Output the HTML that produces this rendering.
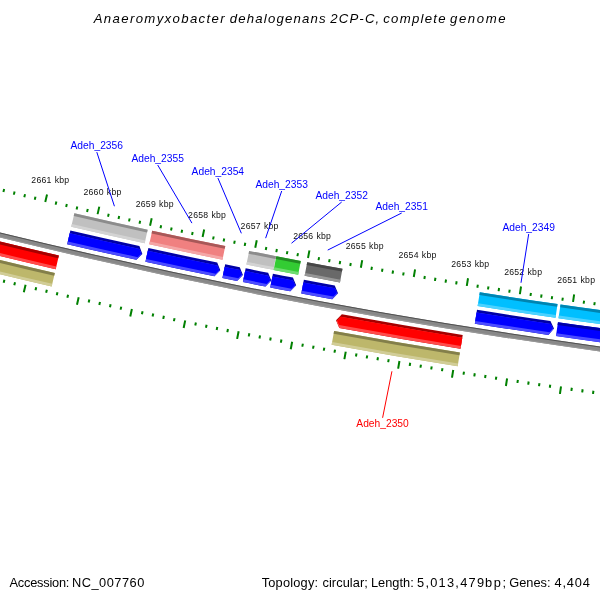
<!DOCTYPE html>
<html><head><meta charset="utf-8"><style>
html,body{margin:0;padding:0;background:#fff;width:600px;height:600px;overflow:hidden}
svg{display:block;will-change:transform}
text{font-family:"Liberation Sans",sans-serif}
</style></head><body>
<svg width="600" height="600" viewBox="0 0 600 600">
<rect width="600" height="600" fill="#fff"/>
<path d="M-69.09,215.18A5927.11,5927.11 0 0 0 674.62,356.11L674.00,361.07A5932.11,5932.11 0 0 1 -70.33,220.02Z" fill="#888888"/>
<path d="M-69.09,215.18A5927.11,5927.11 0 0 0 674.62,356.11L674.50,357.10A5928.11,5928.11 0 0 1 -69.34,216.15Z" fill="#505050"/>
<path d="M-70.08,219.05A5931.11,5931.11 0 0 0 674.13,360.08L674.00,361.07A5932.11,5932.11 0 0 1 -70.33,220.02Z" fill="#989898"/>
<path d="M74.37,213.19A5891.16,5891.16 0 0 0 147.66,229.68L144.70,243.26A5905.06,5905.06 0 0 1 71.23,226.73Z" fill="#c0c0c0"/>
<path d="M74.37,213.19A5891.16,5891.16 0 0 0 147.66,229.68L147.06,232.42A5893.96,5893.96 0 0 1 73.74,215.92Z" fill="#8c8c8c"/>
<path d="M71.86,224.01A5902.26,5902.26 0 0 0 145.29,240.53L144.70,243.26A5905.06,5905.06 0 0 1 71.23,226.73Z" fill="#d3d3d3"/>
<path d="M70.35,230.53A5908.96,5908.96 0 0 0 139.39,246.09L142.37,253.91L136.39,259.77A5922.96,5922.96 0 0 1 67.19,244.17Z" fill="#0000a6"/>
<path d="M69.72,233.26A5911.76,5911.76 0 0 0 139.53,248.99L141.67,254.60L136.39,259.77A5922.96,5922.96 0 0 1 67.19,244.17Z" fill="#4c4cff"/>
<path d="M69.72,233.26A5911.76,5911.76 0 0 0 139.53,248.99L141.32,253.68L137.73,257.20A5920.16,5920.16 0 0 1 67.82,241.44Z" fill="#0000ff"/>
<path d="M152.18,230.67A5891.16,5891.16 0 0 0 225.27,246.08L222.49,259.69A5905.06,5905.06 0 0 1 149.23,244.25Z" fill="#f08080"/>
<path d="M152.18,230.67A5891.16,5891.16 0 0 0 225.27,246.08L224.71,248.82A5893.96,5893.96 0 0 1 151.58,233.40Z" fill="#a85858"/>
<path d="M149.82,241.51A5902.26,5902.26 0 0 0 223.05,256.95L222.49,259.69A5905.06,5905.06 0 0 1 149.23,244.25Z" fill="#f4a6a6"/>
<path d="M148.40,248.06A5908.96,5908.96 0 0 0 217.21,262.60L220.30,270.37L214.40,276.31A5922.96,5922.96 0 0 1 145.42,261.74Z" fill="#0000a6"/>
<path d="M147.80,250.80A5911.76,5911.76 0 0 0 217.40,265.49L219.61,271.07L214.40,276.31A5922.96,5922.96 0 0 1 145.42,261.74Z" fill="#4c4cff"/>
<path d="M147.80,250.80A5911.76,5911.76 0 0 0 217.40,265.49L219.25,270.16L215.71,273.72A5920.16,5920.16 0 0 1 146.02,259.00Z" fill="#0000ff"/>
<path d="M225.19,264.23A5908.96,5908.96 0 0 0 239.79,267.18L242.91,274.94L237.03,280.90A5922.96,5922.96 0 0 1 222.40,277.95Z" fill="#0000a6"/>
<path d="M224.63,266.97A5911.76,5911.76 0 0 0 239.98,270.07L242.22,275.64L237.03,280.90A5922.96,5922.96 0 0 1 222.40,277.95Z" fill="#4c4cff"/>
<path d="M224.63,266.97A5911.76,5911.76 0 0 0 239.98,270.07L241.85,274.73L238.33,278.31A5920.16,5920.16 0 0 1 222.96,275.20Z" fill="#0000ff"/>
<path d="M249.14,250.90A5891.16,5891.16 0 0 0 276.05,256.21L273.39,269.86A5905.06,5905.06 0 0 1 246.42,264.53Z" fill="#c0c0c0"/>
<path d="M249.14,250.90A5891.16,5891.16 0 0 0 276.05,256.21L275.51,258.96A5893.96,5893.96 0 0 1 248.60,253.65Z" fill="#8c8c8c"/>
<path d="M246.97,261.79A5902.26,5902.26 0 0 0 273.93,267.11L273.39,269.86A5905.06,5905.06 0 0 1 246.42,264.53Z" fill="#d3d3d3"/>
<path d="M245.65,268.36A5908.96,5908.96 0 0 0 268.14,272.81L271.30,280.56L265.45,286.54A5922.96,5922.96 0 0 1 242.91,282.08Z" fill="#0000a6"/>
<path d="M245.11,271.10A5911.76,5911.76 0 0 0 268.35,275.70L270.62,281.26L265.45,286.54A5922.96,5922.96 0 0 1 242.91,282.08Z" fill="#4c4cff"/>
<path d="M245.11,271.10A5911.76,5911.76 0 0 0 268.35,275.70L270.25,280.35L266.74,283.94A5920.16,5920.16 0 0 1 243.46,279.34Z" fill="#0000ff"/>
<path d="M276.31,256.27A5891.16,5891.16 0 0 0 300.76,260.98L298.16,274.63A5905.06,5905.06 0 0 1 273.65,269.91Z" fill="#33cc33"/>
<path d="M276.31,256.27A5891.16,5891.16 0 0 0 300.76,260.98L300.24,263.73A5893.96,5893.96 0 0 1 275.78,259.01Z" fill="#228a22"/>
<path d="M274.19,267.16A5902.26,5902.26 0 0 0 298.68,271.88L298.16,274.63A5905.06,5905.06 0 0 1 273.65,269.91Z" fill="#70dc70"/>
<path d="M272.91,273.74A5908.96,5908.96 0 0 0 292.93,277.61L296.12,285.34L290.29,291.36A5922.96,5922.96 0 0 1 270.23,287.48Z" fill="#0000a6"/>
<path d="M272.37,276.49A5911.76,5911.76 0 0 0 293.15,280.50L295.44,286.05L290.29,291.36A5922.96,5922.96 0 0 1 270.23,287.48Z" fill="#4c4cff"/>
<path d="M272.37,276.49A5911.76,5911.76 0 0 0 293.15,280.50L295.06,285.14L291.57,288.75A5920.16,5920.16 0 0 1 270.76,284.73Z" fill="#0000ff"/>
<path d="M307.21,262.21A5891.16,5891.16 0 0 0 342.47,268.78L339.96,282.45A5905.06,5905.06 0 0 1 304.62,275.86Z" fill="#696969"/>
<path d="M307.21,262.21A5891.16,5891.16 0 0 0 342.47,268.78L341.96,271.53A5893.96,5893.96 0 0 1 306.69,264.96Z" fill="#474747"/>
<path d="M305.14,273.11A5902.26,5902.26 0 0 0 340.47,279.69L339.96,282.45A5905.06,5905.06 0 0 1 304.62,275.86Z" fill="#969696"/>
<path d="M303.89,279.69A5908.96,5908.96 0 0 0 334.75,285.46L338.00,293.17L332.22,299.23A5922.96,5922.96 0 0 1 301.29,293.45Z" fill="#0000a6"/>
<path d="M303.37,282.45A5911.76,5911.76 0 0 0 334.99,288.35L337.32,293.88L332.22,299.23A5922.96,5922.96 0 0 1 301.29,293.45Z" fill="#4c4cff"/>
<path d="M303.37,282.45A5911.76,5911.76 0 0 0 334.99,288.35L336.94,292.98L333.48,296.61A5920.16,5920.16 0 0 1 301.81,290.70Z" fill="#0000ff"/>
<path d="M479.81,292.26A5891.16,5891.16 0 0 0 557.53,304.08L555.54,317.83A5905.06,5905.06 0 0 1 477.63,305.99Z" fill="#00bfff"/>
<path d="M479.81,292.26A5891.16,5891.16 0 0 0 557.53,304.08L557.13,306.85A5893.96,5893.96 0 0 1 479.37,295.03Z" fill="#0084b0"/>
<path d="M478.06,303.22A5902.26,5902.26 0 0 0 555.94,315.06L555.54,317.83A5905.06,5905.06 0 0 1 477.63,305.99Z" fill="#4cd2ff"/>
<path d="M477.01,309.84A5908.96,5908.96 0 0 0 550.44,321.03L553.97,328.62L548.42,334.88A5922.96,5922.96 0 0 1 474.82,323.67Z" fill="#0000a6"/>
<path d="M476.57,312.61A5911.76,5911.76 0 0 0 550.79,323.91L553.32,329.35L548.42,334.88A5922.96,5922.96 0 0 1 474.82,323.67Z" fill="#4c4cff"/>
<path d="M476.57,312.61A5911.76,5911.76 0 0 0 550.79,323.91L552.91,328.46L549.57,332.22A5920.16,5920.16 0 0 1 475.26,320.90Z" fill="#0000ff"/>
<path d="M560.51,304.51A5891.16,5891.16 0 0 0 652.37,317.06L650.59,330.85A5905.06,5905.06 0 0 1 558.52,318.27Z" fill="#00bfff"/>
<path d="M560.51,304.51A5891.16,5891.16 0 0 0 652.37,317.06L652.01,319.84A5893.96,5893.96 0 0 1 560.11,307.28Z" fill="#0084b0"/>
<path d="M558.92,315.49A5902.26,5902.26 0 0 0 650.95,328.07L650.59,330.85A5905.06,5905.06 0 0 1 558.52,318.27Z" fill="#4cd2ff"/>
<path d="M557.96,322.13A5908.96,5908.96 0 0 0 650.10,334.71L648.31,348.60A5922.96,5922.96 0 0 1 555.96,335.98Z" fill="#0000ff"/>
<path d="M557.96,322.13A5908.96,5908.96 0 0 0 650.10,334.71L649.74,337.49A5911.76,5911.76 0 0 1 557.56,324.90Z" fill="#0000a6"/>
<path d="M556.36,333.21A5920.16,5920.16 0 0 0 648.67,345.82L648.31,348.60A5922.96,5922.96 0 0 1 555.96,335.98Z" fill="#4c4cff"/>
<path d="M-71.29,223.75A5935.96,5935.96 0 0 0 58.87,255.59L55.70,269.22A5949.96,5949.96 0 0 1 -74.77,237.31Z" fill="#ff0000"/>
<path d="M-71.29,223.75A5935.96,5935.96 0 0 0 58.87,255.59L58.24,258.31A5938.76,5938.76 0 0 1 -71.98,226.46Z" fill="#a60000"/>
<path d="M-74.07,234.60A5947.16,5947.16 0 0 0 56.33,266.50L55.70,269.22A5949.96,5949.96 0 0 1 -74.77,237.31Z" fill="#ff4c4c"/>
<path d="M-75.74,241.09A5953.86,5953.86 0 0 0 54.82,273.02L51.67,286.56A5967.76,5967.76 0 0 1 -79.19,254.55Z" fill="#bdb76b"/>
<path d="M-75.74,241.09A5953.86,5953.86 0 0 0 54.82,273.02L54.18,275.75A5956.66,5956.66 0 0 1 -76.43,243.80Z" fill="#837f4a"/>
<path d="M-78.49,251.84A5964.96,5964.96 0 0 0 52.30,283.83L51.67,286.56A5967.76,5967.76 0 0 1 -79.19,254.55Z" fill="#d1cd97"/>
<path d="M462.72,334.90A5935.96,5935.96 0 0 1 341.86,314.21L336.07,320.27L339.35,327.98A5949.96,5949.96 0 0 0 460.50,348.72Z" fill="#a60000"/>
<path d="M462.27,337.66A5938.76,5938.76 0 0 1 340.61,316.82L336.45,321.17L339.35,327.98A5949.96,5949.96 0 0 0 460.50,348.72Z" fill="#ff4c4c"/>
<path d="M462.27,337.66A5938.76,5938.76 0 0 1 340.61,316.82L337.13,320.46L339.10,325.09A5947.16,5947.16 0 0 0 460.94,345.96Z" fill="#ff0000"/>
<path d="M459.88,352.57A5953.86,5953.86 0 0 1 334.11,330.99L331.61,344.66A5967.76,5967.76 0 0 0 457.68,366.30Z" fill="#bdb76b"/>
<path d="M459.88,352.57A5953.86,5953.86 0 0 1 334.11,330.99L333.61,333.74A5956.66,5956.66 0 0 0 459.44,355.34Z" fill="#837f4a"/>
<path d="M458.12,363.53A5964.96,5964.96 0 0 1 332.12,341.91L331.61,344.66A5967.76,5967.76 0 0 0 457.68,366.30Z" fill="#d1cd97"/>
<path d="M679.54,308.40A5879.16,5879.16 0 0 0 681.50,308.64L680.56,316.29A5886.86,5886.86 0 0 1 678.59,316.04Z" fill="#008000"/>
<path d="M668.09,400.59A5972.06,5972.06 0 0 0 670.09,400.84L669.14,408.48A5979.76,5979.76 0 0 1 667.14,408.23Z" fill="#008000"/>
<path d="M668.29,311.83A5883.96,5883.96 0 0 0 670.26,312.08L669.87,315.15A5887.06,5887.06 0 0 1 667.90,314.90Z" fill="#008000"/>
<path d="M657.28,399.14A5971.96,5971.96 0 0 0 659.28,399.39L658.89,402.47A5975.06,5975.06 0 0 1 656.90,402.21Z" fill="#008000"/>
<path d="M657.63,310.48A5883.96,5883.96 0 0 0 659.60,310.73L659.21,313.80A5887.06,5887.06 0 0 1 657.24,313.55Z" fill="#008000"/>
<path d="M646.47,397.77A5971.96,5971.96 0 0 0 648.46,398.02L648.07,401.10A5975.06,5975.06 0 0 1 646.07,400.84Z" fill="#008000"/>
<path d="M646.98,309.10A5883.96,5883.96 0 0 0 648.94,309.36L648.55,312.43A5887.06,5887.06 0 0 1 646.58,312.18Z" fill="#008000"/>
<path d="M635.65,396.37A5971.96,5971.96 0 0 0 637.65,396.63L637.25,399.71A5975.06,5975.06 0 0 1 635.25,399.45Z" fill="#008000"/>
<path d="M636.32,307.71A5883.96,5883.96 0 0 0 638.29,307.97L637.89,311.04A5887.06,5887.06 0 0 1 635.92,310.79Z" fill="#008000"/>
<path d="M624.84,394.96A5971.96,5971.96 0 0 0 626.84,395.22L626.44,398.30A5975.06,5975.06 0 0 1 624.44,398.03Z" fill="#008000"/>
<path d="M626.31,301.54A5879.16,5879.16 0 0 0 628.28,301.80L627.26,309.44A5886.86,5886.86 0 0 1 625.29,309.18Z" fill="#008000"/>
<path d="M614.02,393.63A5972.06,5972.06 0 0 0 616.02,393.89L615.00,401.53A5979.76,5979.76 0 0 1 613.00,401.26Z" fill="#008000"/>
<path d="M615.03,304.87A5883.96,5883.96 0 0 0 617.00,305.14L616.58,308.21A5887.06,5887.06 0 0 1 614.61,307.94Z" fill="#008000"/>
<path d="M603.23,392.08A5971.96,5971.96 0 0 0 605.23,392.35L604.81,395.42A5975.06,5975.06 0 0 1 602.81,395.15Z" fill="#008000"/>
<path d="M604.39,303.42A5883.96,5883.96 0 0 0 606.35,303.69L605.93,306.76A5887.06,5887.06 0 0 1 603.96,306.49Z" fill="#008000"/>
<path d="M592.43,390.60A5971.96,5971.96 0 0 0 594.42,390.88L594.00,393.95A5975.06,5975.06 0 0 1 592.00,393.67Z" fill="#008000"/>
<path d="M593.74,301.95A5883.96,5883.96 0 0 0 595.71,302.22L595.28,305.29A5887.06,5887.06 0 0 1 593.32,305.02Z" fill="#008000"/>
<path d="M581.63,389.11A5971.96,5971.96 0 0 0 583.62,389.39L583.20,392.46A5975.06,5975.06 0 0 1 581.20,392.18Z" fill="#008000"/>
<path d="M583.11,300.46A5883.96,5883.96 0 0 0 585.07,300.74L584.64,303.81A5887.06,5887.06 0 0 1 582.67,303.53Z" fill="#008000"/>
<path d="M570.83,387.60A5971.96,5971.96 0 0 0 572.82,387.88L572.39,390.95A5975.06,5975.06 0 0 1 570.40,390.67Z" fill="#008000"/>
<path d="M573.15,294.20A5879.16,5879.16 0 0 0 575.11,294.48L574.03,302.10A5886.86,5886.86 0 0 1 572.06,301.82Z" fill="#008000"/>
<path d="M560.02,386.17A5972.06,5972.06 0 0 0 562.01,386.45L560.93,394.08A5979.76,5979.76 0 0 1 558.93,393.79Z" fill="#008000"/>
<path d="M561.84,297.43A5883.96,5883.96 0 0 0 563.80,297.71L563.36,300.78A5887.06,5887.06 0 0 1 561.39,300.49Z" fill="#008000"/>
<path d="M549.24,384.52A5971.96,5971.96 0 0 0 551.24,384.81L550.79,387.88A5975.06,5975.06 0 0 1 548.80,387.59Z" fill="#008000"/>
<path d="M551.21,295.88A5883.96,5883.96 0 0 0 553.17,296.17L552.72,299.23A5887.06,5887.06 0 0 1 550.76,298.95Z" fill="#008000"/>
<path d="M538.45,382.95A5971.96,5971.96 0 0 0 540.45,383.24L540.00,386.31A5975.06,5975.06 0 0 1 538.00,386.02Z" fill="#008000"/>
<path d="M540.58,294.31A5883.96,5883.96 0 0 0 542.54,294.60L542.09,297.67A5887.06,5887.06 0 0 1 540.13,297.38Z" fill="#008000"/>
<path d="M527.67,381.36A5971.96,5971.96 0 0 0 529.66,381.65L529.21,384.72A5975.06,5975.06 0 0 1 527.21,384.42Z" fill="#008000"/>
<path d="M529.96,292.73A5883.96,5883.96 0 0 0 531.92,293.02L531.46,296.09A5887.06,5887.06 0 0 1 529.50,295.79Z" fill="#008000"/>
<path d="M516.88,379.75A5971.96,5971.96 0 0 0 518.88,380.05L518.42,383.11A5975.06,5975.06 0 0 1 516.42,382.81Z" fill="#008000"/>
<path d="M520.06,286.37A5879.16,5879.16 0 0 0 522.02,286.67L520.86,294.28A5886.86,5886.86 0 0 1 518.90,293.99Z" fill="#008000"/>
<path d="M506.09,378.22A5972.06,5972.06 0 0 0 508.08,378.52L506.92,386.13A5979.76,5979.76 0 0 1 504.93,385.83Z" fill="#008000"/>
<path d="M508.72,289.49A5883.96,5883.96 0 0 0 510.68,289.80L510.21,292.86A5887.06,5887.06 0 0 1 508.24,292.56Z" fill="#008000"/>
<path d="M495.33,376.47A5971.96,5971.96 0 0 0 497.32,376.78L496.85,379.84A5975.06,5975.06 0 0 1 494.85,379.53Z" fill="#008000"/>
<path d="M498.10,287.85A5883.96,5883.96 0 0 0 500.06,288.16L499.59,291.22A5887.06,5887.06 0 0 1 497.62,290.91Z" fill="#008000"/>
<path d="M484.55,374.80A5971.96,5971.96 0 0 0 486.54,375.11L486.07,378.17A5975.06,5975.06 0 0 1 484.07,377.86Z" fill="#008000"/>
<path d="M487.49,286.19A5883.96,5883.96 0 0 0 489.45,286.50L488.97,289.56A5887.06,5887.06 0 0 1 487.01,289.25Z" fill="#008000"/>
<path d="M473.78,373.11A5971.96,5971.96 0 0 0 475.77,373.43L475.29,376.49A5975.06,5975.06 0 0 1 473.30,376.17Z" fill="#008000"/>
<path d="M476.88,284.50A5883.96,5883.96 0 0 0 478.84,284.82L478.35,287.88A5887.06,5887.06 0 0 1 476.39,287.57Z" fill="#008000"/>
<path d="M463.01,371.40A5971.96,5971.96 0 0 0 465.00,371.72L464.51,374.78A5975.06,5975.06 0 0 1 462.52,374.47Z" fill="#008000"/>
<path d="M467.04,278.06A5879.16,5879.16 0 0 0 469.00,278.38L467.77,285.98A5886.86,5886.86 0 0 1 465.81,285.66Z" fill="#008000"/>
<path d="M452.23,369.78A5972.06,5972.06 0 0 0 454.22,370.10L453.00,377.70A5979.76,5979.76 0 0 1 451.00,377.38Z" fill="#008000"/>
<path d="M455.67,281.08A5883.96,5883.96 0 0 0 457.63,281.40L457.13,284.46A5887.06,5887.06 0 0 1 455.17,284.14Z" fill="#008000"/>
<path d="M441.49,367.93A5971.96,5971.96 0 0 0 443.47,368.25L442.98,371.31A5975.06,5975.06 0 0 1 440.99,370.99Z" fill="#008000"/>
<path d="M445.07,279.34A5883.96,5883.96 0 0 0 447.03,279.66L446.52,282.72A5887.06,5887.06 0 0 1 444.56,282.40Z" fill="#008000"/>
<path d="M430.73,366.16A5971.96,5971.96 0 0 0 432.71,366.49L432.21,369.55A5975.06,5975.06 0 0 1 430.22,369.22Z" fill="#008000"/>
<path d="M434.47,277.58A5883.96,5883.96 0 0 0 436.43,277.91L435.92,280.96A5887.06,5887.06 0 0 1 433.96,280.64Z" fill="#008000"/>
<path d="M419.97,364.38A5971.96,5971.96 0 0 0 421.96,364.71L421.45,367.77A5975.06,5975.06 0 0 1 419.46,367.43Z" fill="#008000"/>
<path d="M423.88,275.80A5883.96,5883.96 0 0 0 425.84,276.13L425.32,279.19A5887.06,5887.06 0 0 1 423.36,278.86Z" fill="#008000"/>
<path d="M409.22,362.57A5971.96,5971.96 0 0 0 411.21,362.90L410.69,365.96A5975.06,5975.06 0 0 1 408.70,365.63Z" fill="#008000"/>
<path d="M414.10,269.27A5879.16,5879.16 0 0 0 416.05,269.60L414.76,277.19A5886.86,5886.86 0 0 1 412.80,276.86Z" fill="#008000"/>
<path d="M398.45,360.84A5972.06,5972.06 0 0 0 400.44,361.18L399.15,368.77A5979.76,5979.76 0 0 1 397.16,368.43Z" fill="#008000"/>
<path d="M402.70,272.18A5883.96,5883.96 0 0 0 404.66,272.52L404.13,275.57A5887.06,5887.06 0 0 1 402.17,275.24Z" fill="#008000"/>
<path d="M387.73,358.90A5971.96,5971.96 0 0 0 389.71,359.24L389.18,362.30A5975.06,5975.06 0 0 1 387.20,361.95Z" fill="#008000"/>
<path d="M392.12,270.34A5883.96,5883.96 0 0 0 394.07,270.68L393.54,273.74A5887.06,5887.06 0 0 1 391.58,273.40Z" fill="#008000"/>
<path d="M376.98,357.03A5971.96,5971.96 0 0 0 378.97,357.38L378.44,360.43A5975.06,5975.06 0 0 1 376.45,360.09Z" fill="#008000"/>
<path d="M381.54,268.49A5883.96,5883.96 0 0 0 383.49,268.83L382.95,271.88A5887.06,5887.06 0 0 1 381.00,271.54Z" fill="#008000"/>
<path d="M366.25,355.15A5971.96,5971.96 0 0 0 368.23,355.50L367.69,358.55A5975.06,5975.06 0 0 1 365.71,358.20Z" fill="#008000"/>
<path d="M370.96,266.61A5883.96,5883.96 0 0 0 372.91,266.96L372.37,270.01A5887.06,5887.06 0 0 1 370.42,269.66Z" fill="#008000"/>
<path d="M355.51,353.24A5971.96,5971.96 0 0 0 357.49,353.60L356.95,356.65A5975.06,5975.06 0 0 1 354.97,356.30Z" fill="#008000"/>
<path d="M361.24,259.99A5879.16,5879.16 0 0 0 363.19,260.34L361.83,267.92A5886.86,5886.86 0 0 1 359.87,267.57Z" fill="#008000"/>
<path d="M344.76,351.42A5972.06,5972.06 0 0 0 346.74,351.77L345.38,359.35A5979.76,5979.76 0 0 1 343.40,359.00Z" fill="#008000"/>
<path d="M349.82,262.80A5883.96,5883.96 0 0 0 351.77,263.15L351.22,266.20A5887.06,5887.06 0 0 1 349.26,265.85Z" fill="#008000"/>
<path d="M334.05,349.38A5971.96,5971.96 0 0 0 336.03,349.74L335.48,352.79A5975.06,5975.06 0 0 1 333.50,352.43Z" fill="#008000"/>
<path d="M339.25,260.87A5883.96,5883.96 0 0 0 341.20,261.22L340.64,264.27A5887.06,5887.06 0 0 1 338.69,263.91Z" fill="#008000"/>
<path d="M323.33,347.41A5971.96,5971.96 0 0 0 325.31,347.78L324.75,350.83A5975.06,5975.06 0 0 1 322.77,350.46Z" fill="#008000"/>
<path d="M328.69,258.91A5883.96,5883.96 0 0 0 330.64,259.27L330.07,262.32A5887.06,5887.06 0 0 1 328.12,261.96Z" fill="#008000"/>
<path d="M312.61,345.43A5971.96,5971.96 0 0 0 314.59,345.80L314.02,348.85A5975.06,5975.06 0 0 1 312.04,348.48Z" fill="#008000"/>
<path d="M318.13,256.94A5883.96,5883.96 0 0 0 320.08,257.30L319.51,260.35A5887.06,5887.06 0 0 1 317.56,259.99Z" fill="#008000"/>
<path d="M301.89,343.43A5971.96,5971.96 0 0 0 303.87,343.80L303.30,346.85A5975.06,5975.06 0 0 1 301.32,346.47Z" fill="#008000"/>
<path d="M308.47,250.23A5879.16,5879.16 0 0 0 310.42,250.60L308.98,258.17A5886.86,5886.86 0 0 1 307.03,257.80Z" fill="#008000"/>
<path d="M291.16,341.50A5972.06,5972.06 0 0 0 293.13,341.88L291.70,349.44A5979.76,5979.76 0 0 1 289.72,349.07Z" fill="#008000"/>
<path d="M297.02,252.94A5883.96,5883.96 0 0 0 298.97,253.31L298.39,256.35A5887.06,5887.06 0 0 1 296.44,255.98Z" fill="#008000"/>
<path d="M280.46,339.36A5971.96,5971.96 0 0 0 282.44,339.74L281.86,342.79A5975.06,5975.06 0 0 1 279.88,342.41Z" fill="#008000"/>
<path d="M286.47,250.90A5883.96,5883.96 0 0 0 288.42,251.28L287.83,254.33A5887.06,5887.06 0 0 1 285.88,253.95Z" fill="#008000"/>
<path d="M269.76,337.30A5971.96,5971.96 0 0 0 271.74,337.69L271.15,340.73A5975.06,5975.06 0 0 1 269.17,340.35Z" fill="#008000"/>
<path d="M275.93,248.85A5883.96,5883.96 0 0 0 277.88,249.24L277.28,252.28A5887.06,5887.06 0 0 1 275.33,251.90Z" fill="#008000"/>
<path d="M259.06,335.22A5971.96,5971.96 0 0 0 261.03,335.61L260.44,338.65A5975.06,5975.06 0 0 1 258.46,338.26Z" fill="#008000"/>
<path d="M265.39,246.79A5883.96,5883.96 0 0 0 267.33,247.17L266.74,250.21A5887.06,5887.06 0 0 1 264.79,249.83Z" fill="#008000"/>
<path d="M248.36,333.12A5971.96,5971.96 0 0 0 250.33,333.51L249.74,336.55A5975.06,5975.06 0 0 1 247.76,336.16Z" fill="#008000"/>
<path d="M255.79,239.99A5879.16,5879.16 0 0 0 257.73,240.38L256.23,247.93A5886.86,5886.86 0 0 1 254.28,247.54Z" fill="#008000"/>
<path d="M237.64,331.10A5972.06,5972.06 0 0 0 239.62,331.49L238.12,339.05A5979.76,5979.76 0 0 1 236.14,338.65Z" fill="#008000"/>
<path d="M244.32,242.59A5883.96,5883.96 0 0 0 246.26,242.98L245.65,246.02A5887.06,5887.06 0 0 1 243.71,245.63Z" fill="#008000"/>
<path d="M226.97,328.86A5971.96,5971.96 0 0 0 228.95,329.26L228.34,332.30A5975.06,5975.06 0 0 1 226.36,331.90Z" fill="#008000"/>
<path d="M233.79,240.46A5883.96,5883.96 0 0 0 235.73,240.86L235.12,243.90A5887.06,5887.06 0 0 1 233.17,243.50Z" fill="#008000"/>
<path d="M216.29,326.70A5971.96,5971.96 0 0 0 218.26,327.11L217.64,330.14A5975.06,5975.06 0 0 1 215.67,329.74Z" fill="#008000"/>
<path d="M223.26,238.32A5883.96,5883.96 0 0 0 225.21,238.71L224.59,241.75A5887.06,5887.06 0 0 1 222.64,241.35Z" fill="#008000"/>
<path d="M205.60,324.53A5971.96,5971.96 0 0 0 207.58,324.93L206.95,327.97A5975.06,5975.06 0 0 1 204.98,327.56Z" fill="#008000"/>
<path d="M212.74,236.15A5883.96,5883.96 0 0 0 214.68,236.55L214.06,239.59A5887.06,5887.06 0 0 1 212.11,239.19Z" fill="#008000"/>
<path d="M194.92,322.33A5971.96,5971.96 0 0 0 196.90,322.74L196.27,325.77A5975.06,5975.06 0 0 1 194.30,325.36Z" fill="#008000"/>
<path d="M203.20,229.27A5879.16,5879.16 0 0 0 205.14,229.67L203.57,237.21A5886.86,5886.86 0 0 1 201.63,236.81Z" fill="#008000"/>
<path d="M184.23,320.21A5972.06,5972.06 0 0 0 186.20,320.62L184.63,328.16A5979.76,5979.76 0 0 1 182.66,327.75Z" fill="#008000"/>
<path d="M191.71,231.76A5883.96,5883.96 0 0 0 193.65,232.17L193.01,235.21A5887.06,5887.06 0 0 1 191.07,234.80Z" fill="#008000"/>
<path d="M173.58,317.88A5971.96,5971.96 0 0 0 175.55,318.29L174.91,321.32A5975.06,5975.06 0 0 1 172.94,320.91Z" fill="#008000"/>
<path d="M181.20,229.54A5883.96,5883.96 0 0 0 183.14,229.95L182.50,232.99A5887.06,5887.06 0 0 1 180.56,232.57Z" fill="#008000"/>
<path d="M162.91,315.62A5971.96,5971.96 0 0 0 164.88,316.04L164.24,319.07A5975.06,5975.06 0 0 1 162.27,318.65Z" fill="#008000"/>
<path d="M170.69,227.30A5883.96,5883.96 0 0 0 172.63,227.71L171.99,230.75A5887.06,5887.06 0 0 1 170.04,230.33Z" fill="#008000"/>
<path d="M152.25,313.34A5971.96,5971.96 0 0 0 154.22,313.77L153.57,316.80A5975.06,5975.06 0 0 1 151.60,316.37Z" fill="#008000"/>
<path d="M160.19,225.04A5883.96,5883.96 0 0 0 162.13,225.46L161.48,228.49A5887.06,5887.06 0 0 1 159.54,228.07Z" fill="#008000"/>
<path d="M141.59,311.05A5971.96,5971.96 0 0 0 143.56,311.47L142.90,314.50A5975.06,5975.06 0 0 1 140.93,314.08Z" fill="#008000"/>
<path d="M150.72,218.07A5879.16,5879.16 0 0 0 152.66,218.49L151.02,226.01A5886.86,5886.86 0 0 1 149.08,225.59Z" fill="#008000"/>
<path d="M130.91,308.83A5972.06,5972.06 0 0 0 132.88,309.26L131.24,316.78A5979.76,5979.76 0 0 1 129.27,316.35Z" fill="#008000"/>
<path d="M139.20,220.46A5883.96,5883.96 0 0 0 141.14,220.88L140.48,223.91A5887.06,5887.06 0 0 1 138.54,223.48Z" fill="#008000"/>
<path d="M120.29,306.40A5971.96,5971.96 0 0 0 122.25,306.83L121.59,309.86A5975.06,5975.06 0 0 1 119.62,309.43Z" fill="#008000"/>
<path d="M128.71,218.14A5883.96,5883.96 0 0 0 130.65,218.57L129.98,221.59A5887.06,5887.06 0 0 1 128.04,221.16Z" fill="#008000"/>
<path d="M109.64,304.05A5971.96,5971.96 0 0 0 111.61,304.48L110.94,307.51A5975.06,5975.06 0 0 1 108.97,307.07Z" fill="#008000"/>
<path d="M118.23,215.80A5883.96,5883.96 0 0 0 120.17,216.23L119.49,219.26A5887.06,5887.06 0 0 1 117.55,218.83Z" fill="#008000"/>
<path d="M99.00,301.67A5971.96,5971.96 0 0 0 100.96,302.11L100.29,305.14A5975.06,5975.06 0 0 1 98.32,304.70Z" fill="#008000"/>
<path d="M107.75,213.44A5883.96,5883.96 0 0 0 109.68,213.88L109.00,216.90A5887.06,5887.06 0 0 1 107.07,216.47Z" fill="#008000"/>
<path d="M88.36,299.28A5971.96,5971.96 0 0 0 90.33,299.73L89.64,302.75A5975.06,5975.06 0 0 1 87.68,302.31Z" fill="#008000"/>
<path d="M98.34,206.39A5879.16,5879.16 0 0 0 100.27,206.83L98.56,214.34A5886.86,5886.86 0 0 1 96.63,213.90Z" fill="#008000"/>
<path d="M77.71,296.97A5972.06,5972.06 0 0 0 79.67,297.41L77.96,304.92A5979.76,5979.76 0 0 1 76.00,304.48Z" fill="#008000"/>
<path d="M86.80,208.67A5883.96,5883.96 0 0 0 88.74,209.12L88.04,212.14A5887.06,5887.06 0 0 1 86.11,211.69Z" fill="#008000"/>
<path d="M67.10,294.44A5971.96,5971.96 0 0 0 69.06,294.89L68.37,297.91A5975.06,5975.06 0 0 1 66.41,297.46Z" fill="#008000"/>
<path d="M76.33,206.26A5883.96,5883.96 0 0 0 78.27,206.71L77.57,209.73A5887.06,5887.06 0 0 1 75.63,209.28Z" fill="#008000"/>
<path d="M56.48,291.99A5971.96,5971.96 0 0 0 58.44,292.44L57.74,295.46A5975.06,5975.06 0 0 1 55.78,295.01Z" fill="#008000"/>
<path d="M65.87,203.82A5883.96,5883.96 0 0 0 67.80,204.28L67.10,207.29A5887.06,5887.06 0 0 1 65.17,206.84Z" fill="#008000"/>
<path d="M45.86,289.52A5971.96,5971.96 0 0 0 47.82,289.98L47.12,293.00A5975.06,5975.06 0 0 1 45.15,292.54Z" fill="#008000"/>
<path d="M55.41,201.37A5883.96,5883.96 0 0 0 57.34,201.83L56.64,204.84A5887.06,5887.06 0 0 1 54.70,204.39Z" fill="#008000"/>
<path d="M35.24,287.03A5971.96,5971.96 0 0 0 37.20,287.49L36.49,290.51A5975.06,5975.06 0 0 1 34.53,290.05Z" fill="#008000"/>
<path d="M46.07,194.23A5879.16,5879.16 0 0 0 48.00,194.69L46.22,202.18A5886.86,5886.86 0 0 1 44.29,201.72Z" fill="#008000"/>
<path d="M24.61,284.62A5972.06,5972.06 0 0 0 26.57,285.08L24.79,292.58A5979.76,5979.76 0 0 1 22.83,292.11Z" fill="#008000"/>
<path d="M34.51,196.41A5883.96,5883.96 0 0 0 36.44,196.87L35.72,199.89A5887.06,5887.06 0 0 1 33.79,199.42Z" fill="#008000"/>
<path d="M14.03,281.99A5971.96,5971.96 0 0 0 15.99,282.46L15.27,285.48A5975.06,5975.06 0 0 1 13.31,285.01Z" fill="#008000"/>
<path d="M24.07,193.90A5883.96,5883.96 0 0 0 25.99,194.36L25.27,197.38A5887.06,5887.06 0 0 1 23.34,196.91Z" fill="#008000"/>
<path d="M3.43,279.45A5971.96,5971.96 0 0 0 5.38,279.92L4.66,282.93A5975.06,5975.06 0 0 1 2.70,282.46Z" fill="#008000"/>
<path d="M13.62,191.37A5883.96,5883.96 0 0 0 15.55,191.84L14.82,194.85A5887.06,5887.06 0 0 1 12.89,194.38Z" fill="#008000"/>
<path d="M-7.17,276.88A5971.96,5971.96 0 0 0 -5.21,277.35L-5.94,280.37A5975.06,5975.06 0 0 1 -7.90,279.89Z" fill="#008000"/>
<path d="M3.19,188.82A5883.96,5883.96 0 0 0 5.12,189.30L4.38,192.31A5887.06,5887.06 0 0 1 2.45,191.83Z" fill="#008000"/>
<path d="M-17.76,274.29A5971.96,5971.96 0 0 0 -15.80,274.77L-16.54,277.78A5975.06,5975.06 0 0 1 -18.50,277.30Z" fill="#008000"/>
<path d="M-6.09,181.60A5879.16,5879.16 0 0 0 -4.16,182.07L-6.01,189.55A5886.86,5886.86 0 0 1 -7.94,189.07Z" fill="#008000"/>
<path d="M-28.37,271.78A5972.06,5972.06 0 0 0 -26.42,272.27L-28.26,279.74A5979.76,5979.76 0 0 1 -30.22,279.26Z" fill="#008000"/>
<path d="M-17.67,183.67A5883.96,5883.96 0 0 0 -15.74,184.15L-16.49,187.16A5887.06,5887.06 0 0 1 -18.42,186.68Z" fill="#008000"/>
<path d="M-38.93,269.06A5971.96,5971.96 0 0 0 -36.98,269.55L-37.72,272.56A5975.06,5975.06 0 0 1 -39.68,272.07Z" fill="#008000"/>
<path d="M-28.09,181.07A5883.96,5883.96 0 0 0 -26.16,181.55L-26.92,184.55A5887.06,5887.06 0 0 1 -28.84,184.07Z" fill="#008000"/>
<path d="M-49.51,266.42A5971.96,5971.96 0 0 0 -47.55,266.91L-48.31,269.92A5975.06,5975.06 0 0 1 -50.26,269.43Z" fill="#008000"/>
<path d="M-38.51,178.44A5883.96,5883.96 0 0 0 -36.58,178.93L-37.34,181.93A5887.06,5887.06 0 0 1 -39.27,181.45Z" fill="#008000"/>
<path d="M-60.08,263.76A5971.96,5971.96 0 0 0 -58.13,264.25L-58.89,267.25A5975.06,5975.06 0 0 1 -60.84,266.76Z" fill="#008000"/>
<path d="M-48.92,175.80A5883.96,5883.96 0 0 0 -46.99,176.29L-47.76,179.29A5887.06,5887.06 0 0 1 -49.68,178.80Z" fill="#008000"/>
<path d="M-70.65,261.07A5971.96,5971.96 0 0 0 -68.70,261.57L-69.46,264.57A5975.06,5975.06 0 0 1 -71.41,264.08Z" fill="#008000"/>
<path d="M-58.13,168.49A5879.16,5879.16 0 0 0 -56.21,168.98L-58.12,176.44A5886.86,5886.86 0 0 1 -60.05,175.94Z" fill="#008000"/>
<path d="M-81.23,258.47A5972.06,5972.06 0 0 0 -79.28,258.97L-81.20,266.43A5979.76,5979.76 0 0 1 -83.15,265.93Z" fill="#008000"/>
<text x="576.18" y="282.74" font-size="8.7" letter-spacing="0.22" word-spacing="0.5" text-anchor="middle" fill="#111">2651 kbp</text>
<text x="523.21" y="274.94" font-size="8.7" letter-spacing="0.22" word-spacing="0.5" text-anchor="middle" fill="#111">2652 kbp</text>
<text x="470.33" y="266.66" font-size="8.7" letter-spacing="0.22" word-spacing="0.5" text-anchor="middle" fill="#111">2653 kbp</text>
<text x="417.51" y="257.89" font-size="8.7" letter-spacing="0.22" word-spacing="0.5" text-anchor="middle" fill="#111">2654 kbp</text>
<text x="364.78" y="248.65" font-size="8.7" letter-spacing="0.22" word-spacing="0.5" text-anchor="middle" fill="#111">2655 kbp</text>
<text x="312.14" y="238.92" font-size="8.7" letter-spacing="0.22" word-spacing="0.5" text-anchor="middle" fill="#111">2656 kbp</text>
<text x="259.59" y="228.71" font-size="8.7" letter-spacing="0.22" word-spacing="0.5" text-anchor="middle" fill="#111">2657 kbp</text>
<text x="207.13" y="218.03" font-size="8.7" letter-spacing="0.22" word-spacing="0.5" text-anchor="middle" fill="#111">2658 kbp</text>
<text x="154.78" y="206.86" font-size="8.7" letter-spacing="0.22" word-spacing="0.5" text-anchor="middle" fill="#111">2659 kbp</text>
<text x="102.52" y="195.22" font-size="8.7" letter-spacing="0.22" word-spacing="0.5" text-anchor="middle" fill="#111">2660 kbp</text>
<text x="50.38" y="183.10" font-size="8.7" letter-spacing="0.22" word-spacing="0.5" text-anchor="middle" fill="#111">2661 kbp</text>
<line x1="96.80" y1="152.10" x2="114.43" y2="206.24" stroke="#0000ff" stroke-width="1"/>
<text x="70.50" y="148.70" font-size="10.26" fill="#0000ff">Adeh_2356</text>
<line x1="157.70" y1="165.00" x2="191.94" y2="223.12" stroke="#0000ff" stroke-width="1"/>
<text x="131.40" y="161.60" font-size="10.26" fill="#0000ff">Adeh_2355</text>
<line x1="217.90" y1="178.00" x2="241.36" y2="233.32" stroke="#0000ff" stroke-width="1"/>
<text x="191.60" y="174.60" font-size="10.26" fill="#0000ff">Adeh_2354</text>
<line x1="281.70" y1="191.00" x2="265.64" y2="238.17" stroke="#0000ff" stroke-width="1"/>
<text x="255.40" y="187.60" font-size="10.26" fill="#0000ff">Adeh_2353</text>
<line x1="341.70" y1="202.00" x2="291.51" y2="243.22" stroke="#0000ff" stroke-width="1"/>
<text x="315.40" y="198.60" font-size="10.26" fill="#0000ff">Adeh_2352</text>
<line x1="401.70" y1="213.00" x2="327.71" y2="250.08" stroke="#0000ff" stroke-width="1"/>
<text x="375.40" y="209.60" font-size="10.26" fill="#0000ff">Adeh_2351</text>
<line x1="528.70" y1="234.00" x2="521.01" y2="282.78" stroke="#0000ff" stroke-width="1"/>
<text x="502.40" y="230.60" font-size="10.26" fill="#0000ff">Adeh_2349</text>
<line x1="382.60" y1="417.80" x2="391.93" y2="371.29" stroke="#ff0000" stroke-width="1"/>
<text x="356.30" y="426.70" font-size="10.26" fill="#ff0000">Adeh_2350</text>
<text x="93.7" y="22.5" font-size="13.2" font-style="italic" letter-spacing="1.35" fill="#000">Anaeromyxobacter</text>
<text x="229.7" y="22.5" font-size="13.2" font-style="italic" letter-spacing="1.19" fill="#000">dehalogenans</text>
<text x="330.3" y="22.5" font-size="13.2" font-style="italic" letter-spacing="1.14" fill="#000">2CP-C,</text>
<text x="383.2" y="22.5" font-size="13.2" font-style="italic" letter-spacing="1.26" fill="#000">complete</text>
<text x="450" y="22.5" font-size="13.2" font-style="italic" letter-spacing="1.6" fill="#000">genome</text>
<text x="9.5" y="587" font-size="12.8" letter-spacing="-0.22" fill="#000">Accession:</text>
<text x="72" y="587" font-size="12.8" letter-spacing="0.5" fill="#000">NC_007760</text>
<text x="261.7" y="587" font-size="12.8" letter-spacing="0.2" fill="#000">Topology:</text>
<text x="322.5" y="587" font-size="12.8" letter-spacing="0.06" fill="#000">circular;</text>
<text x="371" y="587" font-size="12.8" letter-spacing="0.0" fill="#000">Length:</text>
<text x="417" y="587" font-size="12.8" letter-spacing="1.27" fill="#000">5,013,479</text>
<text x="485.1" y="587" font-size="12.8" letter-spacing="1.6" fill="#000">bp;</text>
<text x="509.2" y="587" font-size="12.8" letter-spacing="0.0" fill="#000">Genes:</text>
<text x="554.5" y="587" font-size="12.8" letter-spacing="0.82" fill="#000">4,404</text>
</svg></body></html>
